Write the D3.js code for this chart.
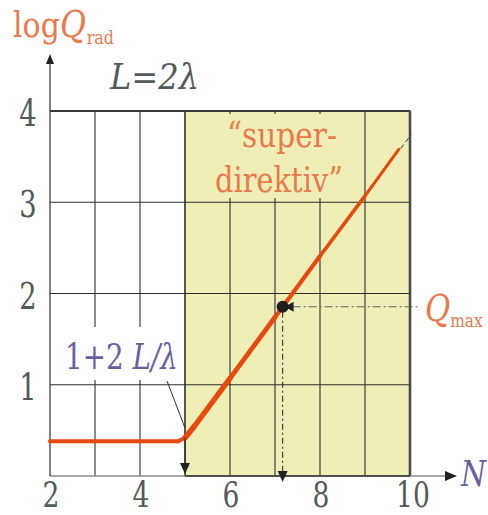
<!DOCTYPE html>
<html><head><meta charset="utf-8">
<script src="https://cdn.jsdelivr.net/npm/d3@7"></script>
<style>html,body{margin:0;padding:0;background:#fff;} svg{display:block;} text{font-family:"DejaVu Serif","Liberation Serif",serif;}</style>
</head><body>
<svg id="chart" width="488" height="515"></svg>
<script>
// Radiation quality factor of an array of length L = 2λ versus element count N
const gridN = [3, 4, 5, 6, 7, 8, 9];
const gridLogQ = [1, 2, 3];
const tickN = [2, 4, 6, 8, 10];
const tickLogQ = [1, 2, 3, 4];
const curveN    = [2,    3,    4,    4.85, 5.0,  5.2,  6,    7,    8,    9,    9.75];
const curveLogQ = [0.38, 0.38, 0.38, 0.38, 0.42, 0.54, 1.07, 1.74, 2.41, 3.07, 3.58];
const extendN    = [9.75, 10];
const extendLogQ = [3.58, 3.74];
const superStartN = 5;          // N = 1 + 2L/λ
const superStartLogQ = 0.42;
const qmaxN = 7.17, qmaxLogQ = 1.855;

const orange = "#e97a4c", purple = "#6b5e9e", gray = "#535a5a";
const svg = d3.select("#chart");

const x = d3.scaleLinear().domain([2, 10]).range([50, 410]);
const y = d3.scaleLinear().domain([0, 4]).range([476, 111]);

// text squeezed horizontally to a given width
function fitText(parent, px, py, width, parts, fill) {
  const g = parent.append("g");
  const t = g.append("text").attr("fill", fill);
  parts.forEach(p => {
    const s = t.append("tspan").text(p.text).attr("font-size", p.size)
      .attr("font-style", p.italic ? "italic" : "normal");
    if (p.dy) s.attr("dy", p.dy);
    if (p.dx) s.attr("dx", p.dx);
  });
  const w = t.node().getBBox().width;
  g.attr("transform", `translate(${px},${py}) scale(${width / w},1)`);
  return g;
}
function scaledText(parent, px, py, txt, size, sx, fill) {
  parent.append("text").attr("transform", `translate(${px},${py}) scale(${sx},1)`)
    .attr("text-anchor", "middle").attr("font-size", size).attr("fill", fill).text(txt);
}

// super-directive region
svg.append("rect")
  .attr("x", x(superStartN)).attr("y", y(4))
  .attr("width", x(10) - x(superStartN)).attr("height", y(0) - y(4))
  .attr("fill", "#eeeeb6").attr("stroke", "#3c3c3c").attr("stroke-width", 1.2);

// grid
const grid = svg.append("g").attr("stroke", "#2e2e2e").attr("stroke-width", 1.1);
grid.selectAll("line.v").data(gridN).join("line").attr("class", "v")
  .attr("x1", d => x(d)).attr("x2", d => x(d)).attr("y1", y(0)).attr("y2", y(4));
grid.selectAll("line.h").data(gridLogQ).join("line").attr("class", "h")
  .attr("x1", x(2)).attr("x2", x(10)).attr("y1", d => y(d)).attr("y2", d => y(d));
svg.append("line").attr("x1", x(2)).attr("x2", x(10)).attr("y1", y(4)).attr("y2", y(4))
  .attr("stroke", "#3a3a3a").attr("stroke-width", 2);
svg.append("line").attr("x1", x(10)).attr("x2", x(10)).attr("y1", y(4)).attr("y2", y(0))
  .attr("stroke", "#4a4a4a").attr("stroke-width", 2.6);

// label backgrounds hide the grid under the text
svg.append("rect").attr("x", 200).attr("y", 114).attr("width", 152).attr("height", 84).attr("fill", "#eeeeb6");
svg.append("rect").attr("x", 58).attr("y", 327).attr("width", 124).attr("height", 53).attr("fill", "#fff");

// axes
svg.append("line").attr("x1", x(2)).attr("x2", 448).attr("y1", y(0)).attr("y2", y(0))
  .attr("stroke", "#8a8a8a").attr("stroke-width", 1.6);
svg.append("line").attr("x1", x(superStartN)).attr("x2", x(10)).attr("y1", y(0)).attr("y2", y(0))
  .attr("stroke", "#3c3c3c").attr("stroke-width", 1.4);
svg.append("path").attr("d", `M457,${y(0)} L445,${y(0) - 5} L445,${y(0) + 5} Z`).attr("fill", "#222");
svg.append("line").attr("x1", x(2)).attr("x2", x(2)).attr("y1", y(0)).attr("y2", 62)
  .attr("stroke", "#2e2e2e").attr("stroke-width", 1.2);
svg.append("path").attr("d", `M${x(2)},54 L${x(2) - 4},64 L${x(2) + 4},64 Z`).attr("fill", "#222");

// curve
const pts = curveN.map((n, i) => [x(n), y(curveLogQ[i])]);
const ext = extendN.map((n, i) => [x(n), y(extendLogQ[i])]);
const line = d3.line();
svg.append("path").attr("d", line(pts.concat(ext.slice(1)).map(p => [p[0] + 1.2, p[1]])))
  .attr("fill", "none").attr("stroke", "#333").attr("stroke-width", 1)
  .attr("stroke-dasharray", "5,3");
const widthAt = d3.scaleLinear().domain([5.2, 9.75]).range([5.6, 2.8]).clamp(true);
const red = svg.append("g").attr("stroke", "#e8490e").attr("stroke-linecap", "round").attr("fill", "none");
for (let i = 0; i < pts.length - 1; i++) {
  const w = curveN[i + 1] <= superStartN ? 4 : widthAt((curveN[i] + curveN[i + 1]) / 2);
  red.append("path").attr("d", line([pts[i], pts[i + 1]])).attr("stroke-width", w);
}

// guides to the axis
const qx = x(qmaxN), qy = y(qmaxLogQ);
svg.append("line").attr("x1", x(superStartN)).attr("x2", x(superStartN))
  .attr("y1", y(superStartLogQ)).attr("y2", 464).attr("stroke", "#2e2e2e").attr("stroke-width", 1.1);
svg.append("path").attr("d", `M${x(superStartN)},474 L${x(superStartN) - 5},463 L${x(superStartN) + 5},463 Z`).attr("fill", "#222");
svg.append("line").attr("x1", qx).attr("x2", qx).attr("y1", qy + 5).attr("y2", 471)
  .attr("stroke", "#333").attr("stroke-width", 1.1).attr("stroke-dasharray", "6,3,2,3");
svg.append("path").attr("d", `M${qx},482 L${qx - 5},471 L${qx + 5},471 Z`).attr("fill", "#222");
svg.append("line").attr("x1", qx + 10).attr("x2", 420).attr("y1", qy).attr("y2", qy)
  .attr("stroke", "#666").attr("stroke-width", 1.1).attr("stroke-dasharray", "8,3,2,3");
svg.append("path").attr("d", `M${qx + 2},${qy} L${qx + 11},${qy - 5} L${qx + 11},${qy + 5} Z`).attr("fill", "#222");
svg.append("circle").attr("cx", qx).attr("cy", qy).attr("r", 6).attr("fill", "#1e1e1e");

// leader from 1+2L/λ label
svg.append("line").attr("x1", 167).attr("y1", 381).attr("x2", x(superStartN)).attr("y2", 428)
  .attr("stroke", "#333").attr("stroke-width", 1);

// tick labels
tickLogQ.forEach(v => scaledText(svg, 28, y(v) + 15, v, 37, 0.74, gray));
tickN.forEach(n => scaledText(svg, x(n) + (n === 10 ? 3 : 1), 507, n, 35, 0.76, gray));

// titles and annotations
fitText(svg, 13, 37, 101, [
  { text: "log", size: 36 }, { text: "Q", size: 38, italic: true },
  { text: "rad", size: 19, dy: 7, dx: 1 }], orange);
fitText(svg, 110, 89, 90, [{ text: "L=2λ", size: 36, italic: true }], gray);
fitText(svg, 227, 147, 110, [{ text: "“super-", size: 36 }], orange);
fitText(svg, 215, 192, 128, [{ text: "direktiv”", size: 36 }], orange);
fitText(svg, 65, 369, 113, [{ text: "1+2 ", size: 36 }, { text: "L/λ", size: 36, italic: true }], purple);
fitText(svg, 425, 321, 58, [{ text: "Q", size: 38, italic: true }, { text: "max", size: 19, dy: 6 }], orange);
fitText(svg, 461, 486, 27, [{ text: "N", size: 36, italic: true }], purple);
</script>
</body></html>
